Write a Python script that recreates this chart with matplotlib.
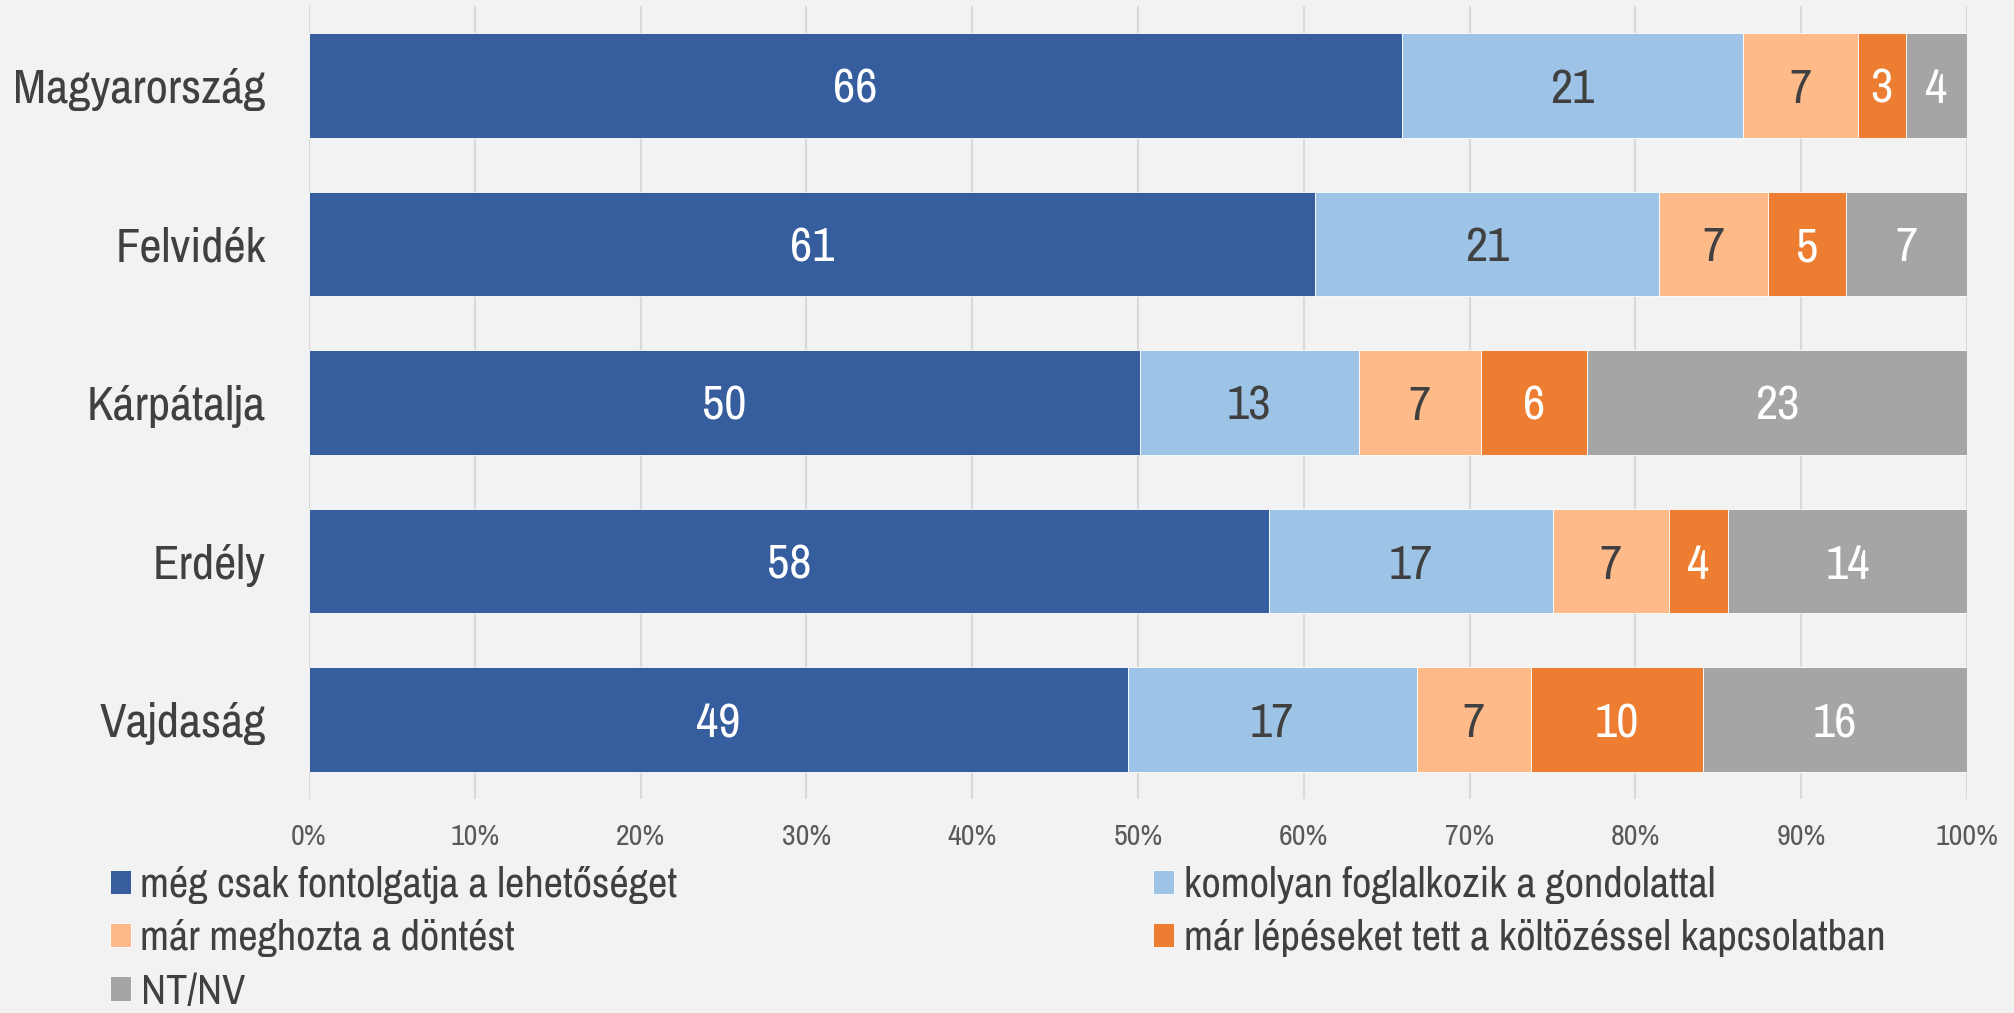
import matplotlib
matplotlib.use("Agg")
import matplotlib.pyplot as plt
from matplotlib import font_manager
import numpy as np

names = {f.name for f in font_manager.fontManager.ttflist}
FONT = 'Archivo Narrow'
for cand in ['Liberation Sans Narrow', 'Arial Narrow', 'Archivo Narrow']:
    if cand in names:
        FONT = cand
        break
plt.rcParams['font.family'] = [FONT, 'DejaVu Sans']

categories = ['Magyarország', 'Felvidék', 'Kárpátalja', 'Erdély', 'Vajdaság']
series_names = ['még csak fontolgatja a lehetőséget',
                'komolyan foglalkozik a gondolattal',
                'már meghozta a döntést',
                'már lépéseket tett a költözéssel kapcsolatban',
                'NT/NV']
fontolgatja = [65.9, 60.7, 50.1, 57.9, 49.4]
komolyan = [20.6, 20.7, 13.2, 17.1, 17.4]
dontes = [6.9, 6.6, 7.4, 7.0, 6.9]
lepesek = [2.9, 4.7, 6.4, 3.6, 10.4]
ntnv = [3.8, 7.3, 22.9, 14.4, 15.9]
xtick_labels = ['0%', '10%', '20%', '30%', '40%', '50%', '60%', '70%', '80%', '90%', '100%']

colors = ['#365E9F', '#9DC3E6', '#FFBA8A', '#ED7D31', '#A5A5A5']
label_colors = ['white', '#404040', '#404040', 'white', 'white']
BG = '#F2F2F2'

fig = plt.figure(figsize=(20.15, 10.13), dpi=100, facecolor=BG)
ax = fig.add_axes([0.1533, 0.2113, 0.8229, 0.7828], facecolor=BG)

series = [fontolgatja, komolyan, dontes, lepesek, ntnv]
y = np.arange(len(categories))
left = np.zeros(len(categories))
handles = []
for vals, name, c, lc in zip(series, series_names, colors, label_colors):
    vals = np.array(vals)
    bars = ax.barh(y, vals, left=left, height=0.66, color=c, label=name,
                   edgecolor='white', linewidth=0.6, zorder=3)
    anns = ax.bar_label(bars, labels=[f'{v:.0f}' for v in vals], label_type='center',
                        color=lc, fontsize=35)
    for a in anns:
        a.set_va('center_baseline')
    handles.append(bars)
    left += vals

ax.set_xlim(0, 100)
ax.set_ylim(len(categories) - 0.5, -0.5)
ax.set_yticks(y)
ax.set_yticklabels(categories, fontsize=35, color='#404040')
for t in ax.get_yticklabels():
    t.set_va('center_baseline')
ax.set_xticks(np.arange(0, 101, 10))
ax.set_xticklabels(xtick_labels, fontsize=21.5, color='#595959')
ax.tick_params(axis='both', length=0)
ax.tick_params(axis='y', pad=31)
ax.tick_params(axis='x', pad=17)
ax.grid(axis='x', color='#D9D9D9', linewidth=1.5, zorder=0)
for s in ax.spines.values():
    s.set_visible(False)

leg_kw = dict(frameon=False, fontsize=30.5, labelcolor='#404040', handlelength=0.5,
              handleheight=0.5, handletextpad=0.22, labelspacing=0.36,
              borderpad=0, borderaxespad=0, loc='upper left')
fig.legend([handles[0], handles[2], handles[4]],
           [series_names[0], series_names[2], series_names[4]],
           bbox_to_anchor=(110 / 2015, 1 - 866 / 1013), **leg_kw)
fig.legend([handles[1], handles[3]],
           [series_names[1], series_names[3]],
           bbox_to_anchor=(1153 / 2015, 1 - 866 / 1013), **leg_kw)

fig.savefig('out.png', dpi=100, facecolor=BG)
